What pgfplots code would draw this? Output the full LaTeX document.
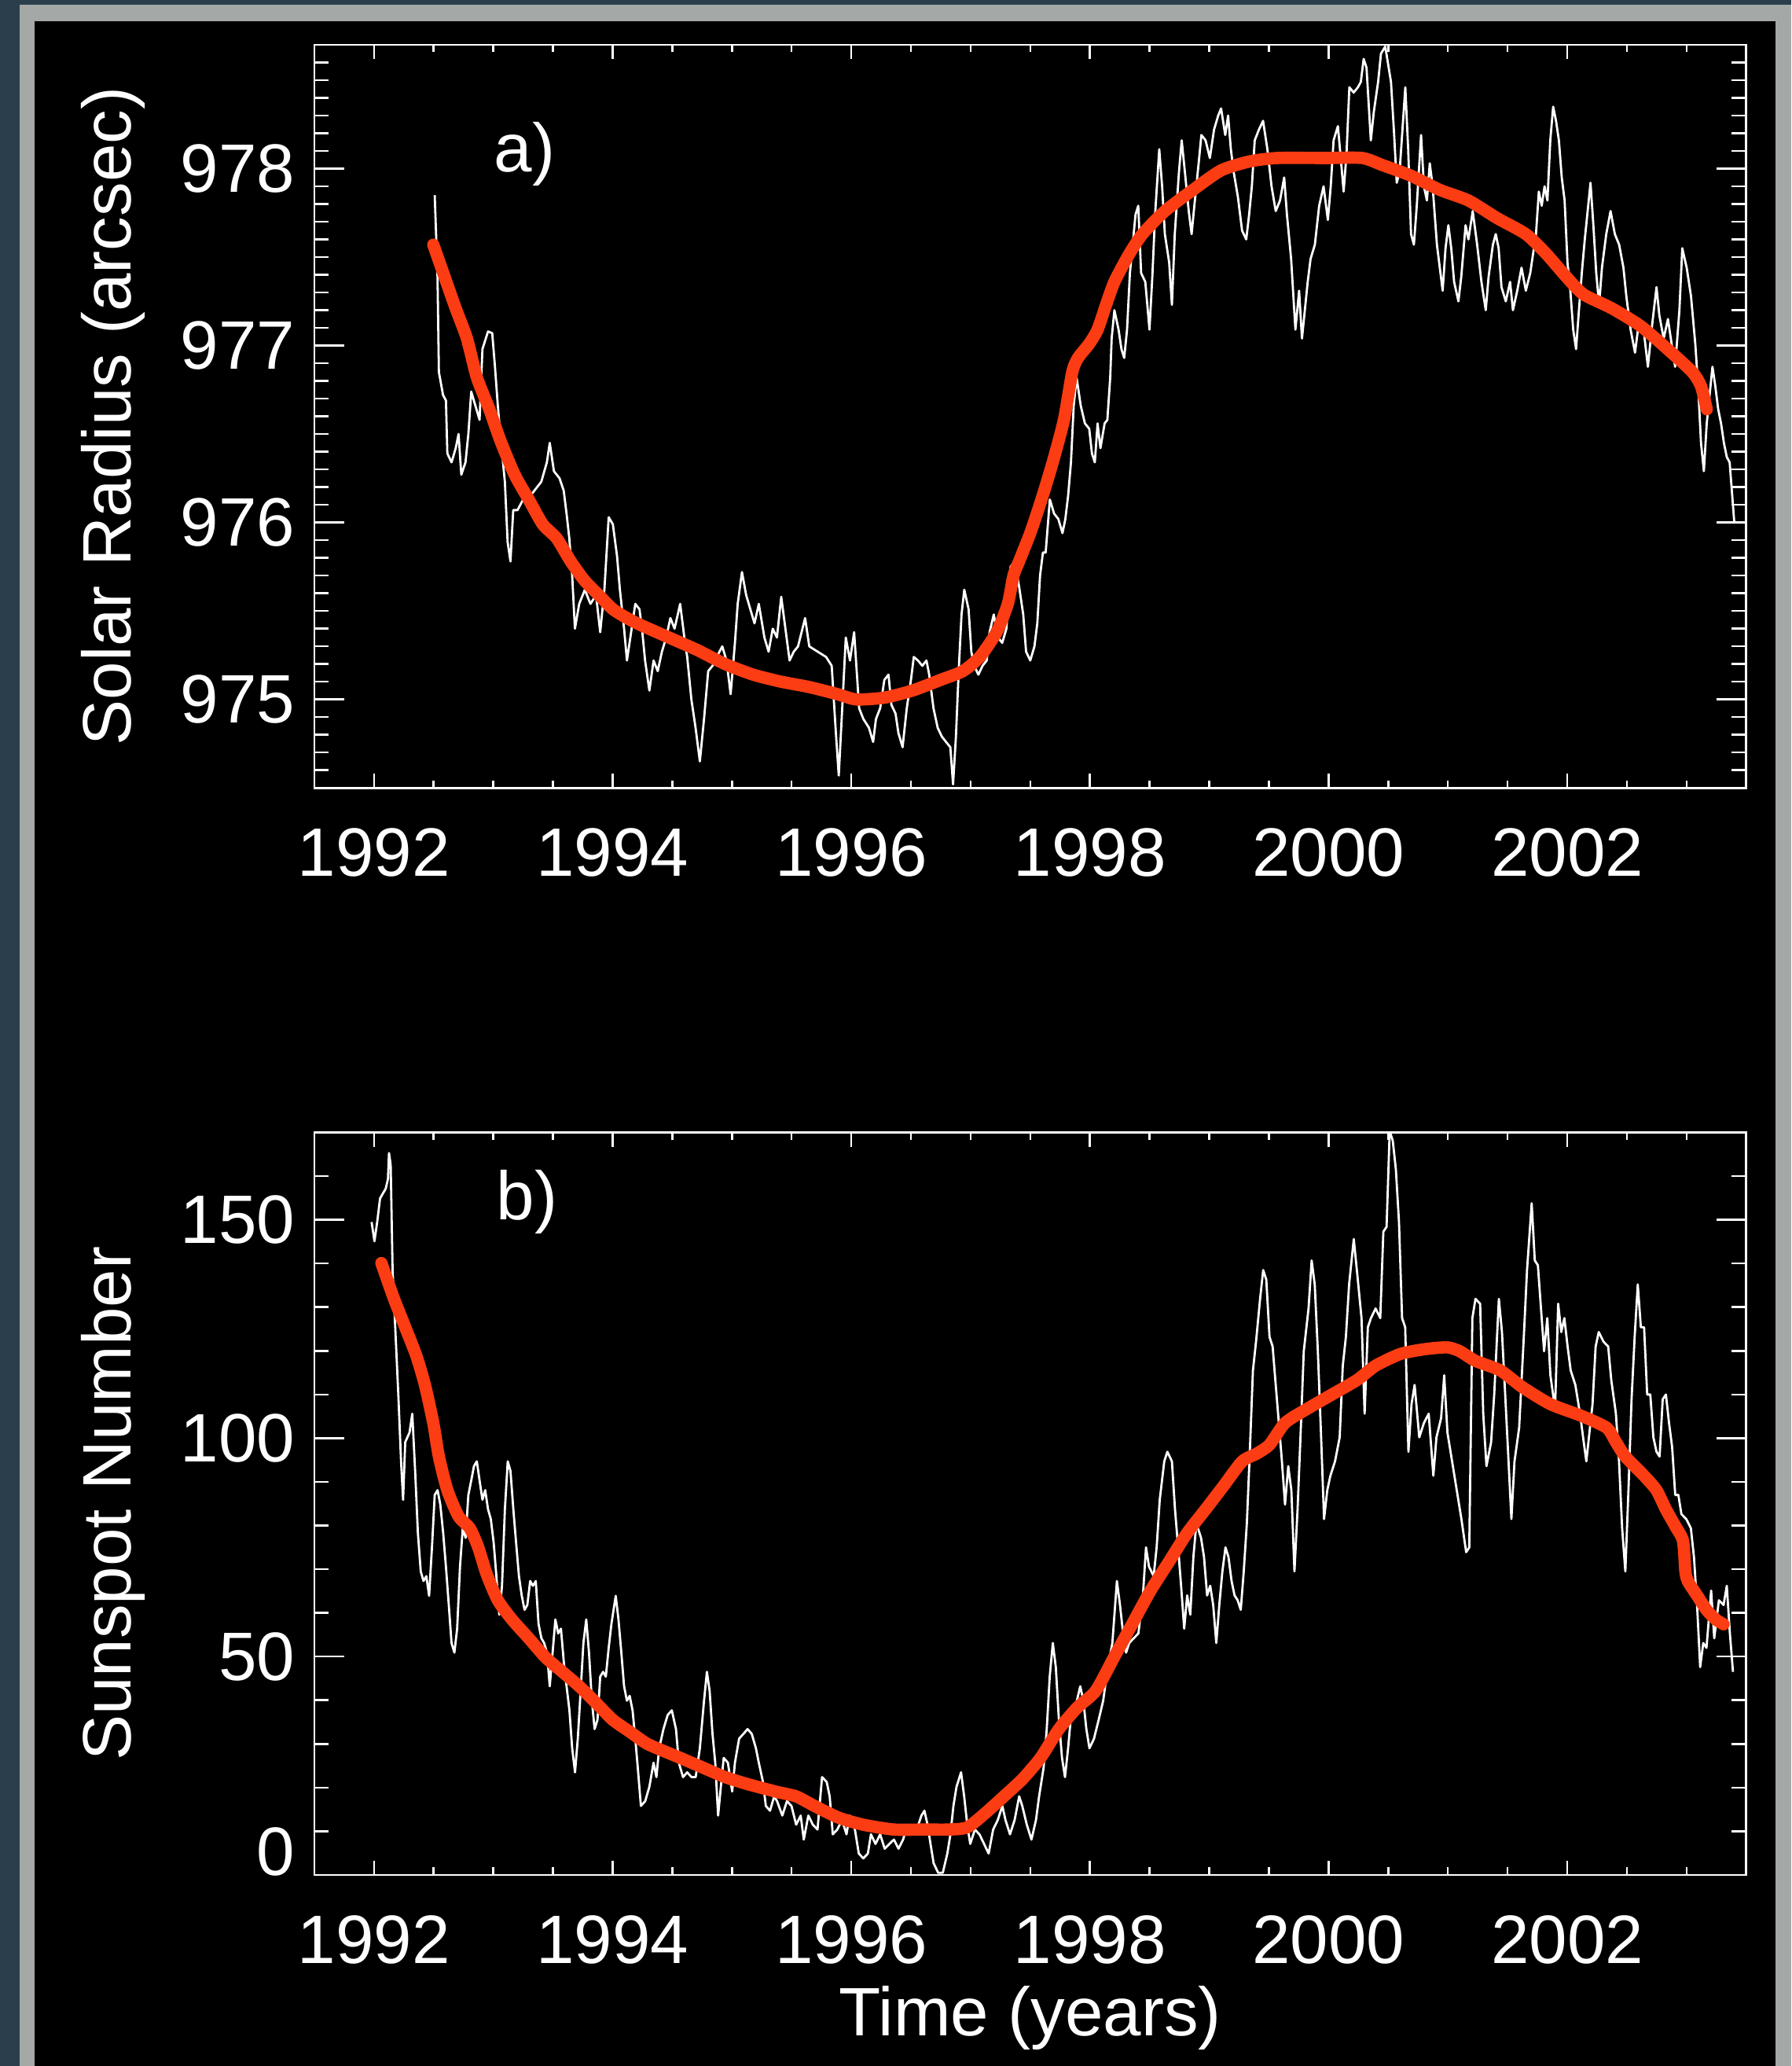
\documentclass[border=0pt]{standalone}
\usepackage{pgfplots}
\pgfplotsset{compat=1.18}
\usepackage{pgfplotstable}
\usepackage{fontspec}
\setmainfont{Liberation Sans}

\definecolor{framedark}{RGB}{43,62,76}
\definecolor{framegray}{RGB}{164,169,168}
\definecolor{fitred}{RGB}{252,60,18}
\newcommand{\lblfont}{\fontsize{15.6}{18}\selectfont}

% Solar radius measurements (arcsec)
\pgfplotstableread{
year rad
1992.509 977.85
1992.532 977.41
1992.544 976.85
1992.579 976.72
1992.603 976.69
1992.615 976.39
1992.650 976.34
1992.685 976.42
1992.709 976.50
1992.732 976.27
1992.767 976.34
1992.791 976.50
1992.815 976.74
1992.850 976.66
1992.885 976.58
1992.909 976.98
1992.956 977.08
1992.991 977.07
1993.014 976.88
1993.038 976.66
1993.061 976.48
1993.097 976.23
1993.120 975.89
1993.144 975.78
1993.167 976.07
1993.203 976.07
1993.250 976.13
1993.285 976.13
1993.344 976.18
1993.402 976.23
1993.449 976.34
1993.473 976.45
1993.508 976.29
1993.555 976.25
1993.590 976.18
1993.614 976.05
1993.637 975.91
1993.661 975.70
1993.684 975.40
1993.720 975.54
1993.767 975.62
1993.814 975.54
1993.861 975.59
1993.896 975.38
1993.931 975.62
1993.967 976.03
1994.002 975.99
1994.037 975.81
1994.061 975.62
1994.096 975.40
1994.120 975.22
1994.155 975.38
1994.190 975.54
1994.225 975.51
1994.249 975.38
1994.272 975.22
1994.308 975.05
1994.343 975.22
1994.378 975.16
1994.413 975.27
1994.449 975.35
1994.484 975.46
1994.519 975.40
1994.566 975.54
1994.601 975.35
1994.625 975.24
1994.660 975.00
1994.695 974.84
1994.731 974.65
1994.766 974.89
1994.801 975.16
1994.837 975.19
1994.872 975.24
1994.919 975.30
1994.954 975.22
1994.989 975.03
1995.025 975.32
1995.048 975.54
1995.084 975.72
1995.119 975.59
1995.154 975.51
1995.189 975.43
1995.225 975.54
1995.272 975.35
1995.307 975.27
1995.342 975.40
1995.377 975.35
1995.413 975.58
1995.448 975.40
1995.483 975.22
1995.518 975.27
1995.554 975.30
1995.613 975.46
1995.648 975.30
1995.718 975.27
1995.789 975.24
1995.836 975.19
1995.871 974.81
1995.895 974.57
1995.918 974.87
1995.954 975.35
1995.989 975.22
1996.024 975.38
1996.066 974.95
1996.101 974.89
1996.148 974.84
1996.183 974.76
1996.207 974.89
1996.242 974.95
1996.277 975.11
1996.312 975.14
1996.336 974.97
1996.371 974.92
1996.395 974.81
1996.430 974.73
1996.465 974.95
1996.500 975.11
1996.524 975.24
1996.559 975.22
1996.595 975.19
1996.630 975.22
1996.653 975.14
1996.689 974.95
1996.724 974.84
1996.759 974.79
1996.794 974.76
1996.830 974.73
1996.853 974.52
1996.877 974.79
1996.900 975.16
1996.924 975.48
1996.947 975.62
1996.983 975.51
1997.006 975.27
1997.030 975.19
1997.065 975.14
1997.100 975.19
1997.135 975.22
1997.159 975.38
1997.194 975.48
1997.229 975.35
1997.265 975.32
1997.300 975.40
1997.335 975.75
1997.370 975.78
1997.406 975.64
1997.441 975.48
1997.465 975.27
1997.500 975.22
1997.535 975.30
1997.559 975.43
1997.582 975.70
1997.606 975.83
1997.629 975.83
1997.664 976.13
1997.700 976.05
1997.735 976.02
1997.770 975.94
1997.794 976.02
1997.817 976.15
1997.841 976.34
1997.864 976.66
1997.888 976.82
1997.923 976.66
1997.958 976.56
1997.994 976.53
1998.017 976.39
1998.041 976.34
1998.064 976.56
1998.088 976.42
1998.123 976.56
1998.146 976.58
1998.170 976.82
1998.182 977.04
1998.205 977.20
1998.240 977.09
1998.264 976.98
1998.287 976.93
1998.311 977.09
1998.335 977.41
1998.358 977.57
1998.382 977.74
1998.405 977.79
1998.429 977.41
1998.464 977.36
1998.499 977.09
1998.523 977.39
1998.546 977.74
1998.581 978.11
1998.605 977.90
1998.628 977.63
1998.664 977.47
1998.687 977.23
1998.711 977.63
1998.746 977.98
1998.769 978.16
1998.793 978.00
1998.828 977.76
1998.852 977.63
1998.875 977.79
1998.911 978.03
1998.934 978.19
1998.969 978.16
1999.005 978.06
1999.040 978.22
1999.075 978.30
1999.099 978.34
1999.134 978.19
1999.158 978.30
1999.181 978.11
1999.205 977.98
1999.240 977.84
1999.275 977.65
1999.310 977.60
1999.334 977.74
1999.357 977.90
1999.381 978.16
1999.416 978.22
1999.451 978.27
1999.487 978.11
1999.522 977.90
1999.557 977.76
1999.593 977.82
1999.628 977.95
1999.651 977.74
1999.686 977.49
1999.722 977.09
1999.753 977.31
1999.777 977.04
1999.801 977.20
1999.825 977.36
1999.849 977.49
1999.885 977.57
1999.921 977.79
1999.958 977.90
1999.994 977.71
2000.018 977.90
2000.042 978.16
2000.078 978.24
2000.102 978.06
2000.126 977.87
2000.150 978.08
2000.174 978.46
2000.210 978.43
2000.246 978.46
2000.270 978.49
2000.294 978.62
2000.318 978.57
2000.354 978.16
2000.379 978.32
2000.415 978.49
2000.439 978.65
2000.475 978.69
2000.499 978.59
2000.523 978.49
2000.547 978.22
2000.571 977.92
2000.595 977.98
2000.619 978.22
2000.643 978.46
2000.667 978.11
2000.691 977.63
2000.715 977.57
2000.739 977.79
2000.775 978.19
2000.799 977.90
2000.824 977.82
2000.848 978.03
2000.872 977.90
2000.908 977.57
2000.932 977.44
2000.956 977.31
2000.980 977.55
2001.004 977.68
2001.028 977.55
2001.052 977.36
2001.088 977.25
2001.112 977.39
2001.148 977.68
2001.172 977.60
2001.208 977.76
2001.245 977.57
2001.281 977.36
2001.317 977.20
2001.341 977.39
2001.377 977.57
2001.401 977.63
2001.425 977.55
2001.449 977.33
2001.485 977.25
2001.521 977.36
2001.545 977.20
2001.581 977.31
2001.617 977.44
2001.653 977.31
2001.690 977.41
2001.714 977.52
2001.738 977.63
2001.762 977.87
2001.786 977.79
2001.810 977.90
2001.834 977.82
2001.858 978.16
2001.882 978.35
2001.906 978.27
2001.930 978.16
2001.954 977.95
2001.978 977.82
2002.002 977.47
2002.026 977.31
2002.050 977.09
2002.074 976.98
2002.098 977.20
2002.122 977.41
2002.147 977.60
2002.171 977.76
2002.195 977.92
2002.219 977.68
2002.243 977.41
2002.267 977.23
2002.291 977.44
2002.327 977.63
2002.363 977.76
2002.399 977.63
2002.435 977.57
2002.471 977.44
2002.495 977.28
2002.531 977.09
2002.568 976.96
2002.604 977.15
2002.640 977.09
2002.676 976.88
2002.712 977.12
2002.748 977.33
2002.772 977.17
2002.808 977.04
2002.844 977.15
2002.868 977.04
2002.904 976.88
2002.940 977.20
2002.964 977.55
2003.001 977.44
2003.037 977.28
2003.073 977.01
2003.097 976.77
2003.121 976.45
2003.145 976.29
2003.169 976.56
2003.193 976.72
2003.217 976.88
2003.241 976.77
2003.265 976.64
2003.289 976.56
2003.313 976.45
2003.337 976.37
2003.361 976.34
2003.400 976.00
}\radiusraw

% Smoothed solar radius
\pgfplotstableread{
year rad
1992.497 977.57
1992.591 977.39
1992.685 977.21
1992.779 977.04
1992.862 976.82
1992.967 976.64
1993.061 976.46
1993.179 976.27
1993.297 976.13
1993.414 975.99
1993.532 975.91
1993.649 975.78
1993.767 975.67
1993.884 975.59
1994.002 975.51
1994.120 975.46
1994.237 975.42
1994.472 975.35
1994.707 975.28
1994.943 975.20
1995.178 975.14
1995.413 975.10
1995.648 975.07
1995.883 975.03
1996.042 975.00
1996.277 975.01
1996.512 975.05
1996.747 975.11
1996.935 975.16
1997.077 975.24
1997.218 975.38
1997.312 975.54
1997.359 975.70
1997.406 975.78
1997.500 975.94
1997.594 976.13
1997.688 976.34
1997.782 976.58
1997.852 976.85
1997.900 976.93
1997.994 977.01
1998.064 977.09
1998.135 977.23
1998.205 977.36
1998.323 977.51
1998.440 977.63
1998.628 977.76
1998.864 977.88
1999.099 977.99
1999.334 978.04
1999.569 978.06
1999.970 978.06
2000.282 978.06
2000.451 978.02
2000.691 977.96
2000.932 977.88
2001.172 977.82
2001.413 977.72
2001.653 977.63
2001.822 977.52
2001.990 977.39
2002.135 977.29
2002.375 977.21
2002.616 977.11
2002.857 976.97
2003.049 976.85
2003.121 976.77
2003.169 976.64
}\radiusfit

% Sunspot number
\pgfplotstableread{
year ssn
1991.980 149.5
1992.004 145.1
1992.027 149.5
1992.051 154.9
1992.074 156.0
1992.098 157.1
1992.117 159.3
1992.126 165.3
1992.140 162.6
1992.156 138.5
1992.180 124.3
1992.204 110.0
1992.227 94.7
1992.244 85.9
1992.262 99.1
1992.298 101.3
1992.321 105.6
1992.345 92.5
1992.368 78.3
1992.392 69.5
1992.415 67.3
1992.439 68.4
1992.462 63.9
1992.486 75.0
1992.509 87.0
1992.533 88.1
1992.556 84.8
1992.580 78.3
1992.603 70.6
1992.627 61.8
1992.650 53.1
1992.674 50.9
1992.697 56.4
1992.721 70.6
1992.744 79.4
1992.768 77.2
1992.791 87.0
1992.815 90.3
1992.838 93.6
1992.862 94.7
1992.885 90.3
1992.909 85.9
1992.932 88.1
1992.956 83.7
1992.979 81.5
1993.003 76.1
1993.026 68.4
1993.050 59.6
1993.073 66.2
1993.097 83.7
1993.121 94.7
1993.144 92.5
1993.168 83.7
1993.191 76.1
1993.215 68.4
1993.238 64.0
1993.262 60.7
1993.285 61.8
1993.309 67.3
1993.332 66.2
1993.356 67.3
1993.379 57.5
1993.403 54.2
1993.426 53.1
1993.450 50.9
1993.473 43.2
1993.497 50.9
1993.520 58.5
1993.544 55.3
1993.567 56.4
1993.591 48.7
1993.614 43.2
1993.638 37.7
1993.661 29.0
1993.685 23.5
1993.708 31.2
1993.732 42.1
1993.755 53.1
1993.779 58.5
1993.802 50.9
1993.826 39.9
1993.849 33.4
1993.873 35.5
1993.896 45.4
1993.920 46.5
1993.943 45.4
1993.967 52.0
1993.990 57.5
1994.026 63.9
1994.049 58.5
1994.073 50.9
1994.096 43.2
1994.120 39.9
1994.143 41.0
1994.167 37.7
1994.190 31.2
1994.214 23.5
1994.237 15.8
1994.273 16.9
1994.308 20.2
1994.343 25.7
1994.367 22.4
1994.390 29.0
1994.426 33.4
1994.461 36.6
1994.496 37.7
1994.531 33.4
1994.555 25.7
1994.590 22.4
1994.625 23.5
1994.661 22.4
1994.696 22.4
1994.731 29.0
1994.766 39.9
1994.790 46.5
1994.813 42.1
1994.837 32.3
1994.860 25.7
1994.884 13.6
1994.907 20.2
1994.931 26.8
1994.966 25.7
1995.002 19.1
1995.025 25.7
1995.060 31.2
1995.096 32.3
1995.131 33.4
1995.166 32.3
1995.201 29.0
1995.225 25.7
1995.260 21.3
1995.284 15.8
1995.319 14.7
1995.354 18.0
1995.378 16.9
1995.422 13.6
1995.461 16.9
1995.499 15.8
1995.538 11.5
1995.576 13.6
1995.602 8.1
1995.640 13.6
1995.678 11.5
1995.717 10.4
1995.755 22.4
1995.794 21.3
1995.819 18.0
1995.845 9.3
1995.883 10.4
1995.922 12.6
1995.960 9.3
1995.986 13.6
1996.024 11.5
1996.063 4.9
1996.101 3.8
1996.139 4.9
1996.165 9.3
1996.203 7.1
1996.242 9.3
1996.280 6.0
1996.319 7.1
1996.357 8.1
1996.396 6.0
1996.434 8.1
1996.472 11.5
1996.511 9.3
1996.549 10.4
1996.588 13.6
1996.613 14.7
1996.639 11.5
1996.664 7.1
1996.690 2.7
1996.728 0.5
1996.767 0.5
1996.805 4.9
1996.831 9.3
1996.856 15.8
1996.882 20.2
1996.920 23.5
1996.946 18.0
1996.972 11.5
1996.997 7.1
1997.036 10.4
1997.074 9.3
1997.113 7.1
1997.151 4.9
1997.189 10.4
1997.228 12.6
1997.266 15.8
1997.292 12.6
1997.330 9.3
1997.369 12.6
1997.407 18.0
1997.433 15.8
1997.471 11.5
1997.510 8.1
1997.548 12.6
1997.574 18.0
1997.612 24.6
1997.638 33.4
1997.663 45.4
1997.689 53.1
1997.714 47.6
1997.740 35.5
1997.766 26.8
1997.791 22.4
1997.817 29.0
1997.842 36.6
1997.881 38.8
1997.919 43.2
1997.945 39.9
1997.970 33.4
1997.996 29.0
1998.034 31.2
1998.073 35.5
1998.111 39.9
1998.150 47.6
1998.188 53.1
1998.226 67.3
1998.252 61.8
1998.278 55.3
1998.303 50.9
1998.329 53.1
1998.367 54.2
1998.406 55.3
1998.444 64.0
1998.470 75.0
1998.495 70.6
1998.534 68.4
1998.559 75.0
1998.585 85.9
1998.623 94.7
1998.649 96.9
1998.687 94.7
1998.713 83.7
1998.739 75.0
1998.764 66.2
1998.790 56.4
1998.815 64.0
1998.841 59.6
1998.867 72.8
1998.892 80.5
1998.931 77.2
1998.956 72.8
1998.982 64.0
1999.008 66.2
1999.033 61.8
1999.059 53.1
1999.084 61.8
1999.110 69.5
1999.136 75.0
1999.161 72.8
1999.187 67.3
1999.212 64.0
1999.238 62.9
1999.264 60.7
1999.289 69.5
1999.315 80.5
1999.340 96.9
1999.366 115.5
1999.392 122.1
1999.426 131.9
1999.452 138.5
1999.478 136.3
1999.505 123.2
1999.531 121.0
1999.557 112.2
1999.583 103.5
1999.609 94.7
1999.635 84.8
1999.662 93.6
1999.688 88.1
1999.714 69.5
1999.740 83.7
1999.766 101.3
1999.792 119.9
1999.832 129.7
1999.858 140.7
1999.884 135.2
1999.910 119.9
1999.936 101.3
1999.962 81.5
1999.989 88.1
2000.015 91.4
2000.054 94.7
2000.093 100.2
2000.119 116.6
2000.145 123.2
2000.172 135.2
2000.211 145.6
2000.237 138.5
2000.276 127.5
2000.302 105.6
2000.329 125.4
2000.355 127.5
2000.394 129.7
2000.433 127.5
2000.459 147.3
2000.486 148.4
2000.512 170.3
2000.538 168.1
2000.564 161.5
2000.590 149.5
2000.616 127.5
2000.642 125.4
2000.669 96.9
2000.695 107.8
2000.721 112.2
2000.760 100.2
2000.799 103.5
2000.839 105.6
2000.878 91.4
2000.904 100.2
2000.943 104.6
2000.969 114.4
2000.996 101.3
2001.035 94.7
2001.074 88.1
2001.113 81.5
2001.153 73.9
2001.179 75.0
2001.205 127.5
2001.231 131.9
2001.270 130.8
2001.296 105.6
2001.323 93.6
2001.362 99.1
2001.388 110.0
2001.427 131.9
2001.453 124.3
2001.480 110.0
2001.506 95.8
2001.532 81.5
2001.558 94.7
2001.597 102.4
2001.636 123.2
2001.663 138.5
2001.702 153.8
2001.728 140.7
2001.754 139.6
2001.780 129.7
2001.806 119.9
2001.833 127.5
2001.859 114.4
2001.898 106.7
2001.924 130.8
2001.950 124.3
2001.976 127.5
2002.003 121.0
2002.029 115.5
2002.068 112.2
2002.107 105.6
2002.133 100.2
2002.160 94.7
2002.186 101.3
2002.212 107.8
2002.238 121.0
2002.264 124.3
2002.304 122.1
2002.343 121.0
2002.369 113.3
2002.408 105.6
2002.434 94.7
2002.460 79.4
2002.487 69.5
2002.513 88.1
2002.539 108.9
2002.565 123.2
2002.591 135.2
2002.617 125.4
2002.644 125.4
2002.670 110.0
2002.696 110.0
2002.722 100.2
2002.748 96.9
2002.774 95.8
2002.800 108.9
2002.827 110.0
2002.853 103.5
2002.879 98.0
2002.905 87.0
2002.931 87.0
2002.957 82.6
2002.997 81.5
2003.036 79.4
2003.062 72.8
2003.088 61.8
2003.114 47.6
2003.140 53.1
2003.167 52.0
2003.206 65.1
2003.232 54.2
2003.271 62.9
2003.310 61.8
2003.337 66.2
2003.363 55.3
2003.389 46.5
}\sunspotraw

% Smoothed sunspot number
\pgfplotstableread{
year ssn
1992.062 140.1
1992.168 131.9
1992.262 125.4
1992.356 118.8
1992.427 112.2
1992.497 103.5
1992.544 95.8
1992.615 88.1
1992.709 82.1
1992.803 79.4
1992.874 75.0
1992.944 68.9
1993.038 62.9
1993.156 58.5
1993.297 54.2
1993.438 49.8
1993.579 46.5
1993.720 43.2
1993.861 39.4
1994.002 35.5
1994.143 32.8
1994.285 30.1
1994.426 28.4
1994.567 26.8
1994.755 24.6
1994.943 22.4
1995.131 20.8
1995.380 19.0
1995.538 18.0
1995.691 15.8
1995.896 13.1
1996.101 11.5
1996.357 10.4
1996.613 10.4
1996.818 10.4
1996.972 10.9
1997.125 14.2
1997.279 18.0
1997.433 21.9
1997.586 26.8
1997.740 33.4
1997.893 38.3
1998.047 42.1
1998.201 49.8
1998.355 57.5
1998.508 65.1
1998.662 71.7
1998.815 78.3
1998.969 83.7
1999.123 89.2
1999.276 94.7
1999.400 96.5
1999.505 98.5
1999.635 103.5
1999.819 106.7
2000.028 110.0
2000.237 113.3
2000.394 116.6
2000.603 119.3
2000.812 120.4
2000.996 120.8
2001.100 119.9
2001.231 117.7
2001.440 115.5
2001.623 111.7
2001.859 107.8
2002.120 105.1
2002.330 102.4
2002.408 99.1
2002.487 95.8
2002.644 91.4
2002.748 88.1
2002.827 83.7
2002.905 79.9
2002.970 76.5
2002.990 69.5
2003.010 67.3
2003.088 64.0
2003.167 60.7
2003.245 58.5
2003.310 57.4
}\sunspotfit

\pgfplotsset{
  panel/.style={
    scale only axis, width=326.1pt, anchor=south west,
    xmin=1991.5, xmax=2003.5,
    axis line style={white, line width=0.5pt},
    every tick/.style={white, line width=0.45pt},
    tick align=inside,
    tick label style={text=white, font=\lblfont, inner sep=0pt},
    label style={text=white, font=\lblfont},
  },
  % x ticks, data and panel tag
  xpanel/.style={panel,
    xtick={1992,1994,...,2002},
    xticklabels={1992,1994,1996,1998,2000,2002},
    minor xtick={1991.5,1992,...,2003.5},
    ytick=\empty,
    major tick length=3.3pt, minor tick length=1.7pt,
    xticklabel style={yshift=-9pt},
  },
  % y ticks and y label
  ypanel/.style={panel,
    xtick=\empty,
    major tick length=6.75pt, minor tick length=3.3pt,
    yticklabel style={xshift=-4.2pt},
    ylabel style={at={(axis description cs:-0.1279,0.5)}, anchor=base},
  },
  rawline/.style={white, line width=0.5pt, line join=round},
  fitline/.style={fitred, line width=2.8pt, smooth, tension=0.4, line cap=round, line join=round},
}

\begin{document}
\begin{tikzpicture}
% frame and page background
\fill[framedark] (0,0) rectangle (408pt,470.4pt);
\fill[framegray] (4.5pt,0) rectangle (408pt,469.3pt);
\fill[black] (7.95pt,0) rectangle (404.4pt,465.6pt);

% a) solar radius
\begin{axis}[xpanel, at={(71.58pt,291pt)}, height=169.2pt,
  ymin=974.5, ymax=978.7]
  \addplot[rawline] table[x=year, y=rad] {\radiusraw};
  \addplot[fitline] table[x=year, y=rad] {\radiusfit};
  \node[anchor=base west, inner sep=0pt, text=white, font=\lblfont]
    at (axis cs:1993.0,977.98) {a)};
\end{axis}
\begin{axis}[ypanel, at={(71.58pt,291pt)}, height=169.2pt,
  ymin=974.5, ymax=978.7,
  ytick={975,976,977,978}, yticklabels={975,976,977,978},
  minor ytick={974.5,974.6,...,978.7},
  ylabel={Solar Radius (arcsec)}]
\end{axis}

% b) sunspot number
\begin{axis}[xpanel, at={(71.58pt,43.5pt)}, height=169.05pt,
  ymin=0, ymax=170,
  xlabel={Time (years)},
  xlabel style={at={(axis description cs:0.5,-0.2165)}, anchor=base}]
  \addplot[rawline] table[x=year, y=ssn] {\sunspotraw};
  \addplot[fitline] table[x=year, y=ssn] {\sunspotfit};
  \node[anchor=base west, inner sep=0pt, text=white, font=\lblfont]
    at (axis cs:1993.02,150.0) {b)};
\end{axis}
\begin{axis}[ypanel, at={(71.58pt,43.5pt)}, height=169.05pt,
  ymin=0, ymax=170,
  ytick={50,100,150}, yticklabels={50,100,150},
  extra y ticks={0}, extra y tick labels={0},
  extra y tick style={grid=none, yticklabel style={yshift=5.2pt}},
  minor ytick={0,10,...,170},
  ylabel={Sunspot Number}]
\end{axis}

\pgfresetboundingbox
\useasboundingbox (0,0) rectangle (408pt,470.4pt);
\end{tikzpicture}
\end{document}
